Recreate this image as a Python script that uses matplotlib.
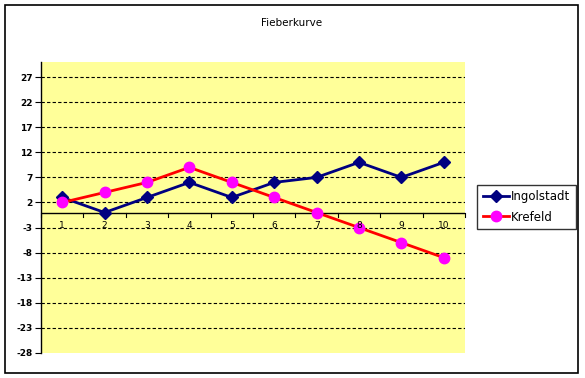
import matplotlib
matplotlib.use("Agg")
import matplotlib.pyplot as plt
from matplotlib.patches import Rectangle

categories = [1, 2, 3, 4, 5, 6, 7, 8, 9, 10]
ingolstadt = [3, 0, 3, 6, 3, 6, 7, 10, 7, 10]
krefeld = [2, 4, 6, 9, 6, 3, 0, -3, -6, -9]
yticks = [27, 22, 17, 12, 7, 2, -3, -8, -13, -18, -23, -28]

plt.rcParams['font.family'] = ['DejaVu Sans']

W, H = 585, 378
fig = plt.figure(figsize=(W/100, H/100), dpi=100)
fig.patch.set_facecolor('white')
fig.add_artist(Rectangle((5/W, 1-373/H), (578-5)/W, (373-5)/H, transform=fig.transFigure,
                         fill=False, edgecolor='black', linewidth=1.2))

l, r, t, b = 41, 465, 62, 353
ax = fig.add_axes([l/W, 1-b/H, (r-l)/W, (b-t)/H])
ax.set_facecolor('#FFFF99')
ax.set_xlim(0.5, 10.5)
ax.set_ylim(-28, 30)

for y in yticks:
    if y != -28:
        ax.axhline(y, color='black', linestyle=(0, (3, 2)), linewidth=0.8, zorder=1)

ax.axhline(0, color='black', linewidth=1.0, zorder=2)
for xb in [0.5 + i for i in range(11)]:
    ax.plot([xb, xb], [0, -0.9], color='black', linewidth=0.8, zorder=2, clip_on=False)

ax.plot(categories, ingolstadt, color='#000080', marker='D', markersize=6, linewidth=2,
        markerfacecolor='#000080', markeredgecolor='#000080', label='Ingolstadt', zorder=3)
ax.plot(categories, krefeld, color='#FF0000', marker='o', markersize=7.5, linewidth=2,
        markerfacecolor='#FF00FF', markeredgecolor='#FF00FF', label='Krefeld', zorder=3)

for c in categories:
    ax.text(c, -1.6, str(c), ha='center', va='top', fontsize=6.5, color='black', zorder=4)

ax.set_xticks([])
ax.set_yticks(yticks)
ax.set_yticklabels([str(v) for v in yticks], fontsize=6.5, fontweight='bold')
ax.tick_params(axis='y', direction='out', length=4, width=0.8, pad=2)
for s in ['top', 'right', 'bottom']:
    ax.spines[s].set_visible(False)
ax.spines['left'].set_linewidth(1.0)

fig.text(292/W, 1-23/H, 'Fieberkurve', ha='center', va='center', fontsize=7.5)

leg = fig.legend(loc='center left', bbox_to_anchor=(477/W, 1-207/H), fontsize=8.5,
                 frameon=True, fancybox=False, edgecolor='black', handlelength=2.2,
                 handletextpad=0.2, borderpad=0.5, labelspacing=0.6, borderaxespad=0)
leg.get_frame().set_linewidth(1.0)

fig.savefig('out.png', dpi=100)
